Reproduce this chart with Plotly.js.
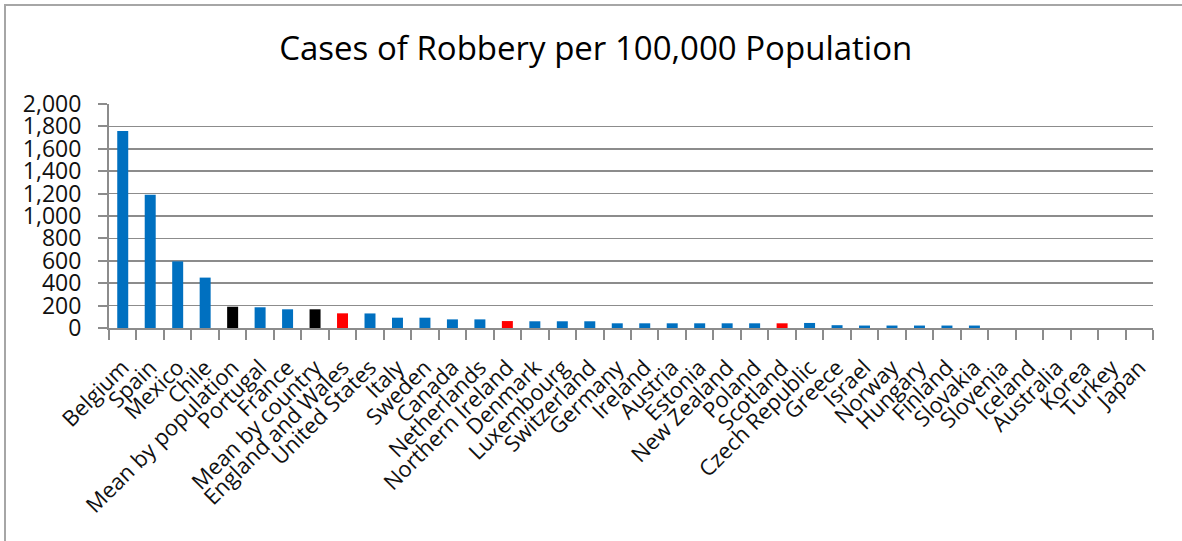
<!DOCTYPE html>
<html>
<head>
<meta charset="utf-8">
<script src="https://cdn.plot.ly/plotly-3.0.1.min.js"></script>
<style>
  html, body { margin: 0; padding: 0; background: #fff; overflow: hidden; }
  #chart { width: 1182px; height: 541px; }
  #frame { position: absolute; left: 4px; top: 4px; width: 1300px; height: 700px;
           border-left: 2px solid #a6a6a6; border-top: 2px solid #a6a6a6; pointer-events: none; }
</style>
</head>
<body>
<div id="chart"></div>
<div id="frame"></div>
<script>
const categories = ["Belgium", "Spain", "Mexico", "Chile", "Mean by population", "Portugal", "France",
  "Mean by country", "England and Wales", "United States", "Italy", "Sweden", "Canada", "Netherlands",
  "Northern Ireland", "Denmark", "Luxembourg", "Switzerland", "Germany", "Ireland", "Austria", "Estonia",
  "New Zealand", "Poland", "Scotland", "Czech Republic", "Greece", "Israel", "Norway", "Hungary", "Finland",
  "Slovakia", "Slovenia", "Iceland", "Australia", "Korea", "Turkey", "Japan"];

const robberyRate = [1760, 1190, 595, 450, 190, 185, 167, 167, 131, 130, 92, 92, 77, 77,
  62, 60, 60, 60, 42, 42, 42, 42, 42, 42, 42, 45, 25, 22, 22, 22, 22,
  22, 0, 0, 0, 0, 0, 0];

// group: "country", "mean" (averages), "uk" (UK jurisdictions)
const group = ["country", "country", "country", "country", "mean", "country", "country",
  "mean", "uk", "country", "country", "country", "country", "country",
  "uk", "country", "country", "country", "country", "country", "country", "country",
  "country", "country", "uk", "country", "country", "country", "country", "country", "country",
  "country", "country", "country", "country", "country", "country", "country"];

const yTickVals = [0, 200, 400, 600, 800, 1000, 1200, 1400, 1600, 1800, 2000];
const yTickText = ["0", "200", "400", "600", "800", "1,000", "1,200", "1,400", "1,600", "1,800", "2,000"];

const groupColor = { country: "#0070C0", mean: "#000000", uk: "#FF0000" };

const trace = {
  type: "bar",
  x: categories,
  y: robberyRate,
  marker: { color: group.map(g => groupColor[g]) },
  hoverinfo: "x+y"
};

const FONT = "Open Sans, Noto Sans, sans-serif";

const layout = {
  width: 1182,
  height: 541,
  paper_bgcolor: "#ffffff",
  plot_bgcolor: "#ffffff",
  margin: { l: 109, r: 29, t: 104, b: 213 },
  showlegend: false,
  bargap: 0.6,
  title: {
    text: "Cases of Robbery per 100,000 Population",
    font: { family: FONT, size: 33, color: "#000000" },
    x: 0.504, xref: "container", xanchor: "center",
    y: 0.91, yref: "container", yanchor: "middle"
  },
  xaxis: {
    type: "category",
    tickangle: -45,
    tickfont: { family: FONT, size: 22, color: "#111111" },
    ticks: "outside",
    tickson: "boundaries",
    ticklen: 10,
    tickwidth: 2,
    tickcolor: "#8c8c8c",
    ticklabelstandoff: 16,
    showline: true,
    linecolor: "#8c8c8c",
    linewidth: 2,
    showgrid: false,
    automargin: false
  },
  yaxis: {
    range: [0, 2000],
    tickvals: yTickVals,
    ticktext: yTickText,
    tickfont: { family: FONT, size: 23, color: "#111111" },
    ticks: "outside",
    ticklen: 9,
    tickwidth: 2,
    tickcolor: "#8c8c8c",
    ticklabelstandoff: 12,
    showline: true,
    linecolor: "#8c8c8c",
    linewidth: 2,
    showgrid: true,
    gridcolor: "#8c8c8c",
    gridwidth: 1.5,
    zeroline: false,
    automargin: false
  }
};

Plotly.newPlot("chart", [trace], layout, { staticPlot: true, displayModeBar: false });
</script>
</body>
</html>
